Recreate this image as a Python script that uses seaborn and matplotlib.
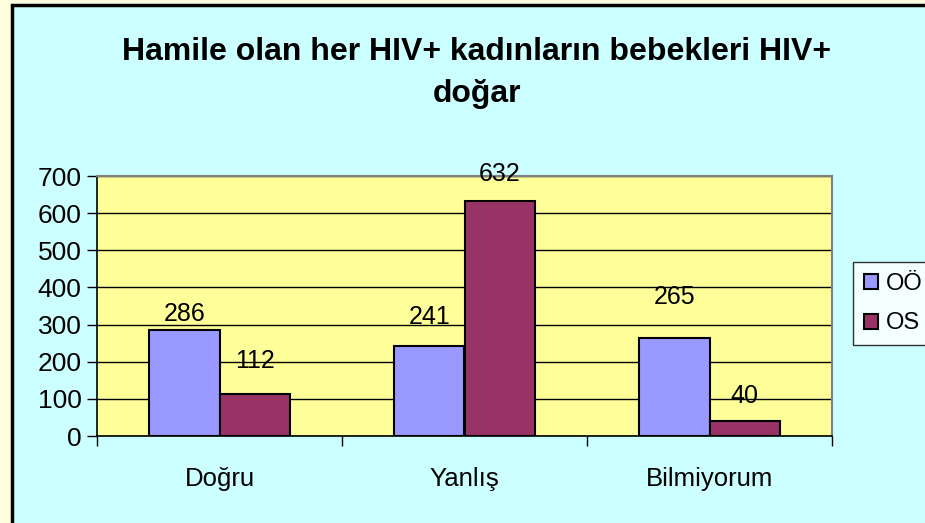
import matplotlib
matplotlib.use("Agg")
import matplotlib.pyplot as plt
from matplotlib.patches import Rectangle
import pandas as pd
import seaborn as sns

# data
categories = ["Doğru", "Yanlış", "Bilmiyorum"]
series_names = ["OÖ", "OS"]
oo_values = [286, 241, 265]
os_values = [112, 632, 40]
y_ticks = [0, 100, 200, 300, 400, 500, 600, 700]

# how far (px) each value label sits above its bar, as placed in the original
label_lift = [[16, 29, 41], [33, 27, 25]]

df = pd.DataFrame({
    "kategori": categories * 2,
    "grup": [series_names[0]] * 3 + [series_names[1]] * 3,
    "sayi": oo_values + os_values,
})

sns.set_style("white")
plt.rcParams["font.family"] = ["Liberation Sans", "DejaVu Sans"]
plt.rcParams["text.color"] = "black"
plt.rcParams["xtick.color"] = "black"
plt.rcParams["ytick.color"] = "black"

fig = plt.figure(figsize=(9.25, 5.23), dpi=100, facecolor="#FFFFE0")
# cyan chart area with black frame
fig.patches.append(Rectangle((12 / 925, -0.05), 1.0, 1 - 5 / 523 + 0.05,
                             transform=fig.transFigure, facecolor="#CCFFFF",
                             edgecolor="black", linewidth=2.5, zorder=-5))

ax = fig.add_axes([97 / 925, 1 - 436 / 523, 735 / 925, 260 / 523])
ax.set_facecolor("#FFFF99")

sns.barplot(data=df, x="kategori", y="sayi", hue="grup",
            palette=["#9999FF", "#993366"], saturation=1, width=0.572,
            edgecolor="black", linewidth=1.5, ax=ax, zorder=3)

for cont, lifts in zip(ax.containers, label_lift):
    for bar, lift in zip(cont, lifts):
        h = bar.get_height()
        ax.annotate(f"{h:.0f}", xy=(bar.get_x() + bar.get_width() / 2, h),
                    xytext=(0, lift), textcoords="offset pixels",
                    ha="center", va="center", fontsize=18)

ax.set_ylim(0, 700)
ax.set_xlim(-0.5, 2.5)
ax.set_yticks(y_ticks)
ax.yaxis.grid(True, color="black", linewidth=1, zorder=0)
ax.set_axisbelow(True)
ax.tick_params(axis="y", labelsize=19, length=7, width=1, direction="out",
               left=True, pad=4)
ax.tick_params(axis="x", labelsize=18.5, length=0, pad=22)
ax.set_xticks([-0.5, 0.5, 1.5, 2.5], minor=True)
ax.tick_params(axis="x", which="minor", length=7, width=1, direction="out",
               bottom=True)
ax.set_xlabel("")
ax.set_ylabel("")
for side in ["left", "bottom"]:
    ax.spines[side].set_color("black")
    ax.spines[side].set_linewidth(1.2)
for side in ["top", "right"]:
    ax.spines[side].set_visible(True)
    ax.spines[side].set_color("#808080")
    ax.spines[side].set_linewidth(1.5)

fig.text(477 / 925, 1 - 73 / 523, "Hamile olan her HIV+ kadınların bebekleri HIV+\ndoğar",
         ha="center", va="center", fontsize=23, fontweight="bold",
         linespacing=1.55)

leg = ax.legend(loc="upper left", bbox_to_anchor=(853 / 925, 1 - 262 / 523),
                bbox_transform=fig.transFigure, fontsize=17, frameon=True,
                fancybox=False, edgecolor="black", handlelength=0.6,
                handleheight=0.6, handletextpad=0.35, borderpad=0.45,
                labelspacing=0.75, borderaxespad=0)
leg.get_frame().set_linewidth(1)

fig.savefig("out.png", dpi=100, facecolor=fig.get_facecolor())
